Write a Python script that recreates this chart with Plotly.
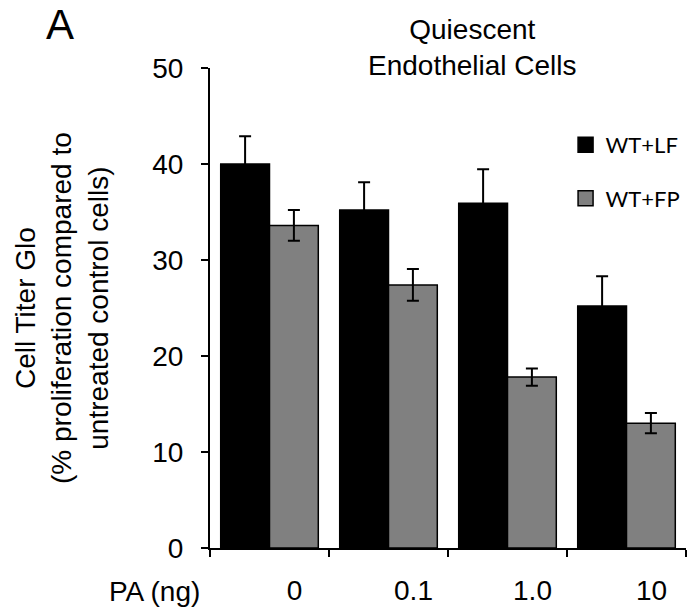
import plotly.graph_objects as go

categories = ["0", "0.1", "1.0", "10"]
wt_lf = [40.0, 35.2, 35.9, 25.2]
wt_lf_err = [2.9, 2.9, 3.55, 3.1]
wt_fp = [33.6, 27.4, 17.8, 13.0]
wt_fp_err = [1.6, 1.65, 0.9, 1.05]
series_names = ["WT+LF", "WT+FP"]
y_ticks = [0, 10, 20, 30, 40, 50]

FONT = "Liberation Sans, Arial, sans-serif"
LEG_FONT = "Lato, Carlito, Calibri, sans-serif"
BLACK = "#000000"
GRAY = "#808080"

fig = go.Figure()
for name, vals, errs, col in [(series_names[0], wt_lf, wt_lf_err, BLACK),
                              (series_names[1], wt_fp, wt_fp_err, GRAY)]:
    fig.add_trace(go.Bar(
        x=categories, y=vals, name=name, showlegend=False,
        marker=dict(color=col, line=dict(color=BLACK, width=1.5)),
        error_y=dict(type="data", array=errs, visible=True,
                     color=BLACK, thickness=2, width=6),
    ))
    # legend-only marker
    fig.add_trace(go.Scatter(
        x=[None], y=[None], mode="markers", name=name, legendgroup=name,
        marker=dict(symbol="square", size=15, color=col,
                    line=dict(color=BLACK, width=1.5)),
    ))

fig.update_layout(
    width=692, height=613,
    margin=dict(l=210, r=6, t=68, b=65),
    paper_bgcolor="white", plot_bgcolor="white",
    barmode="group", bargap=0.18, bargroupgap=0,
    font=dict(family=FONT, size=28, color="black"),
    legend=dict(x=0.747, y=0.8835, xanchor="left", yanchor="top",
                traceorder="grouped", tracegroupgap=22,
                font=dict(family=LEG_FONT, size=22, color="black"),
                bgcolor="rgba(0,0,0,0)", itemwidth=30),
    xaxis=dict(type="category", showline=True, linecolor=BLACK, linewidth=2,
               ticks="outside", ticklen=7, tickwidth=2, tickcolor=BLACK,
               tickson="boundaries", showgrid=False, zeroline=False,
               ticklabelshift=25, ticklabelstandoff=16, automargin=False,
               tickfont=dict(family=FONT, size=28)),
    yaxis=dict(range=[0, 50], tickvals=y_ticks, showline=True, linecolor=BLACK,
               linewidth=2, ticks="outside", ticklen=7, tickwidth=2,
               tickcolor=BLACK, showgrid=False, zeroline=False,
               ticklabelstandoff=12, automargin=False,
               tickfont=dict(family=FONT, size=28)),
    showlegend=True,
)

fig.add_annotation(text="A", xref="paper", yref="paper", x=-0.316, y=1.09,
                   xanchor="center", yanchor="middle", showarrow=False,
                   font=dict(family=FONT, size=42))
fig.add_annotation(text="Quiescent<br>Endothelial Cells", xref="paper", yref="paper",
                   x=0.5525, y=1.042, xanchor="center", yanchor="middle",
                   showarrow=False, font=dict(family=FONT, size=28))
fig.add_annotation(text="Cell Titer Glo<br>(% proliferation compared to<br>untreated control cells)",
                   xref="paper", yref="paper", x=-0.311, y=0.5, textangle=-90,
                   xanchor="center", yanchor="middle", showarrow=False,
                   font=dict(family=FONT, size=28))
fig.add_annotation(text="PA (ng)", xref="paper", yref="paper", x=-0.0168, y=-0.0896,
                   xanchor="right", yanchor="middle", showarrow=False,
                   font=dict(family=FONT, size=28))

fig.write_html("out.html", config={"displayModeBar": False},
               post_script="document.body.style.margin='0';document.body.style.padding='0';")
